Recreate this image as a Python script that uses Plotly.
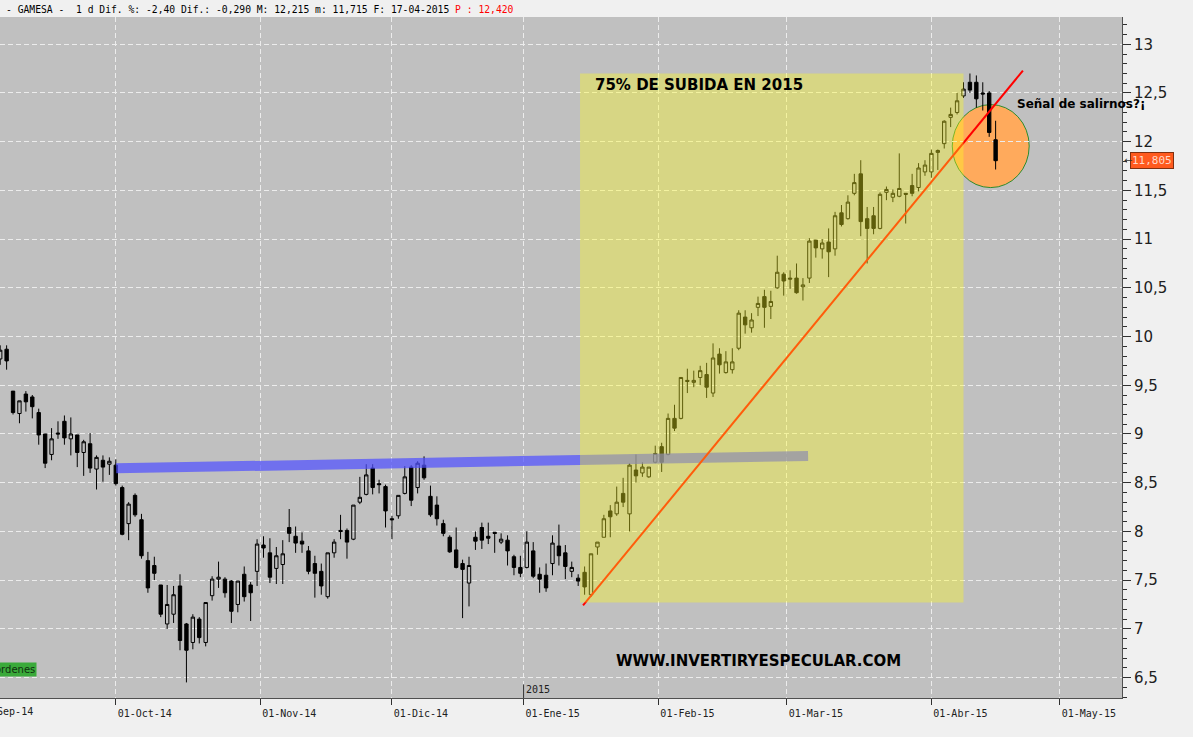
import pandas as pd
import plotly.graph_objects as go

# GAMESA, daily candles 05-Sep-2014 .. 17-Apr-2015
holidays = ["2014-12-25", "2014-12-26", "2015-01-01", "2015-04-03", "2015-04-06"]
cal = pd.bdate_range("2014-09-01", "2015-05-29")
cal = cal[~cal.isin(pd.to_datetime(holidays))]
first_day = pd.Timestamp("2014-09-05")

opens = [9.77, 9.87, 9.44, 9.21, 9.41, 9.38, 9.22, 9.00, 8.79, 9.01,
         9.13, 8.95, 8.99, 8.81, 8.90, 8.64, 8.73, 8.69, 8.68, 8.45,
         8.08, 8.37, 8.12, 7.70, 7.65, 7.45, 7.05, 7.15, 7.44, 7.05,
         6.86, 7.10, 6.86, 7.34, 7.51, 7.51, 7.49, 7.25, 7.56, 7.45,
         7.59, 7.86, 7.78, 7.62, 7.66, 8.04, 7.95, 7.90, 7.80, 7.67,
         7.59, 7.33, 7.78, 8.01, 8.01, 7.92, 8.30, 8.38, 8.65, 8.49,
         8.46, 8.13, 8.16, 8.39, 8.66, 8.45, 8.68, 8.36, 8.27, 8.08,
         7.94, 7.81, 7.67, 7.47, 7.94, 8.04, 7.95, 7.99, 7.89, 7.91,
         7.74, 7.63, 7.63, 7.80, 7.56, 7.55, 7.67, 7.85, 7.78, 7.59,
         7.52, 7.58, 7.35, 7.84, 7.94, 8.21, 8.18, 8.39, 8.18, 8.63,
         8.60, 8.56, 8.71, 8.87, 8.79, 9.16, 9.16, 9.55, 9.53, 9.58,
         9.61, 9.42, 9.82, 9.63, 9.66, 9.88, 10.20, 10.09, 10.30, 10.41,
         10.31, 10.50, 10.64, 10.60, 10.60, 10.51, 10.60, 10.99, 10.90, 10.97,
         10.90, 11.27, 11.21, 11.47, 11.67, 11.21, 11.24, 11.11, 11.48, 11.43,
         11.44, 11.47, 11.55, 11.53, 11.69, 11.69, 11.89, 11.98, 12.25, 12.30,
         12.47, 12.61, 12.61, 12.50, 12.50, 12.02]
highs = [9.91, 9.91, 9.44, 9.34, 9.44, 9.40, 9.26, 9.00, 9.06, 9.13,
         9.19, 9.17, 8.99, 8.94, 9.01, 8.78, 8.78, 8.76, 8.74, 8.47,
         8.30, 8.39, 8.18, 7.79, 7.74, 7.45, 7.45, 7.44, 7.56, 7.06,
         7.15, 7.12, 7.27, 7.54, 7.69, 7.53, 7.50, 7.49, 7.64, 7.48,
         7.92, 7.95, 7.93, 7.84, 7.91, 8.23, 8.05, 7.99, 7.85, 7.75,
         7.67, 7.78, 7.92, 8.17, 8.03, 8.27, 8.56, 8.69, 8.69, 8.53,
         8.48, 8.16, 8.37, 8.67, 8.68, 8.72, 8.77, 8.47, 8.36, 8.12,
         7.96, 8.04, 7.71, 7.74, 8.00, 8.09, 8.09, 7.99, 7.98, 7.96,
         7.76, 7.75, 8.00, 7.89, 7.63, 7.67, 7.96, 8.07, 7.86, 7.69,
         7.56, 7.64, 7.77, 7.89, 8.17, 8.27, 8.46, 8.55, 8.70, 8.79,
         8.71, 8.66, 8.88, 8.91, 9.21, 9.30, 9.58, 9.67, 9.65, 9.70,
         9.73, 9.93, 9.88, 9.85, 9.88, 10.27, 10.27, 10.24, 10.41, 10.48,
         10.47, 10.83, 10.66, 10.68, 10.75, 10.60, 11.01, 10.99, 11.00, 11.11,
         11.28, 11.35, 11.45, 11.67, 11.81, 11.33, 11.33, 11.48, 11.54, 11.51,
         11.88, 11.47, 11.67, 11.78, 11.81, 11.92, 11.92, 12.22, 12.35, 12.50,
         12.61, 12.70, 12.68, 12.61, 12.52, 12.215]
lows = [9.71, 9.66, 9.20, 9.11, 9.23, 9.16, 8.89, 8.65, 8.73, 8.95,
        8.89, 8.78, 8.66, 8.57, 8.60, 8.43, 8.51, 8.58, 8.47, 7.96,
        7.91, 8.15, 7.72, 7.37, 7.50, 7.12, 7.00, 7.06, 6.78, 6.45,
        6.79, 6.85, 6.82, 7.29, 7.42, 7.32, 7.06, 7.17, 7.28, 7.08,
        7.44, 7.73, 7.47, 7.46, 7.46, 7.89, 7.78, 7.78, 7.56, 7.32,
        7.35, 7.31, 7.73, 7.92, 7.72, 7.91, 8.28, 8.37, 8.38, 8.39,
        8.04, 7.92, 8.13, 8.38, 8.26, 8.39, 8.53, 8.15, 8.06, 7.95,
        7.78, 7.62, 7.11, 7.23, 7.81, 7.82, 7.87, 7.78, 7.87, 7.65,
        7.55, 7.53, 7.62, 7.52, 7.37, 7.38, 7.55, 7.65, 7.51, 7.53,
        7.44, 7.35, 7.33, 7.76, 7.94, 7.94, 8.16, 8.25, 8.00, 8.50,
        8.56, 8.55, 8.70, 8.61, 8.78, 9.03, 9.15, 9.42, 9.48, 9.50,
        9.37, 9.38, 9.62, 9.62, 9.62, 9.86, 10.03, 10.04, 10.21, 10.09,
        10.18, 10.49, 10.42, 10.49, 10.44, 10.37, 10.55, 10.81, 10.80, 10.61,
        10.83, 11.13, 11.20, 11.45, 11.03, 10.75, 11.05, 11.10, 11.40, 11.38,
        11.43, 11.16, 11.44, 11.49, 11.65, 11.63, 11.71, 11.93, 12.15, 12.28,
        12.45, 12.50, 12.35, 12.32, 12.05, 11.715]
closes = [9.86, 9.75, 9.22, 9.34, 9.33, 9.28, 8.99, 8.70, 8.95, 9.00,
          8.96, 9.00, 8.81, 8.92, 8.65, 8.76, 8.66, 8.72, 8.49, 7.97,
          8.28, 8.17, 7.75, 7.42, 7.57, 7.15, 7.25, 7.35, 6.88, 6.78,
          7.12, 6.91, 7.27, 7.51, 7.53, 7.37, 7.18, 7.49, 7.33, 7.37,
          7.87, 7.83, 7.53, 7.75, 7.77, 7.98, 7.88, 7.87, 7.59, 7.57,
          7.44, 7.78, 7.89, 8.00, 7.89, 8.27, 8.35, 8.58, 8.45, 8.48,
          8.21, 8.12, 8.37, 8.56, 8.32, 8.70, 8.55, 8.17, 8.13, 7.98,
          7.79, 7.63, 7.61, 7.65, 7.90, 7.91, 7.93, 7.98, 7.92, 7.80,
          7.63, 7.57, 7.89, 7.54, 7.51, 7.42, 7.88, 7.75, 7.64, 7.63,
          7.49, 7.43, 7.77, 7.89, 8.13, 8.15, 8.30, 8.30, 8.68, 8.57,
          8.66, 8.66, 8.80, 8.71, 9.16, 9.06, 9.58, 9.54, 9.55, 9.65,
          9.48, 9.78, 9.71, 9.74, 9.74, 10.24, 10.12, 10.17, 10.34, 10.30,
          10.36, 10.66, 10.57, 10.59, 10.45, 10.53, 10.98, 10.91, 10.96, 10.87,
          11.24, 11.15, 11.38, 11.58, 11.18, 11.11, 11.11, 11.46, 11.51, 11.47,
          11.52, 11.46, 11.47, 11.73, 11.76, 11.88, 11.91, 12.21, 12.28, 12.42,
          12.54, 12.53, 12.44, 12.49, 12.095, 11.805]

month_starts = ["2014-10-01", "2014-11-01", "2014-12-01", "2015-01-01",
                "2015-02-01", "2015-03-01", "2015-04-01", "2015-05-01"]
month_labels = ["01-Oct-14", "01-Nov-14", "01-Dic-14", "01-Ene-15",
                "01-Feb-15", "01-Mar-15", "01-Abr-15", "01-May-15"]
y_ticks = [6.5, 7, 7.5, 8, 8.5, 9, 9.5, 10, 10.5, 11, 11.5, 12, 12.5, 13]
y_labels = ["6,5", "7", "7,5", "8", "8,5", "9", "9,5", "10", "10,5", "11",
            "11,5", "12", "12,5", "13"]

# trading-day positions on the axis
start = list(cal).index(first_day)
xpos = list(range(start, start + len(opens)))


def month_pos(d):
    d = pd.Timestamp(d)
    i = next(j for j, t in enumerate(cal) if t >= d)
    return i if cal[i] == d else i - 0.5


tick_pos = [month_pos(d) for d in month_starts]

fig = go.Figure(go.Candlestick(
    x=xpos, open=opens, high=highs, low=lows, close=closes,
    increasing=dict(line=dict(color="black", width=1), fillcolor="rgba(0,0,0,0)"),
    decreasing=dict(line=dict(color="black", width=1), fillcolor="black"),
    whiskerwidth=0, showlegend=False, hoverinfo="skip",
))

grid = dict(showgrid=True, gridcolor="#ececec", griddash="5px,3px", gridwidth=1,
            zeroline=False, showline=True, linecolor="#505050", linewidth=1,
            ticks="outside", tickcolor="#303030")

fig.update_layout(
    width=1193, height=737,
    margin=dict(l=0, r=71, t=17, b=39, autoexpand=False),
    paper_bgcolor="#f0f0f0", plot_bgcolor="#c0c0c0",
    boxgap=0.25,
    xaxis=dict(range=[3.97, 178.68], rangeslider=dict(visible=False),
               tickvals=tick_pos, ticktext=month_labels, ticklen=6,
               ticklabelshift=29,
               tickfont=dict(family="DejaVu Sans Mono", size=10, color="#202020"),
               **grid),
    yaxis=dict(side="right", range=[6.29, 13.28], tickvals=y_ticks, ticktext=y_labels,
               ticklen=8,
               minor=dict(tick0=6.5, dtick=0.1, ticks="outside", ticklen=4,
                          tickcolor="#303030", showgrid=False),
               tickfont=dict(family="DejaVu Sans", size=15, color="#202020"),
               **grid),
)

# drawings: trend lines, highlighted box, circle
fig.add_shape(type="circle", xref="x", yref="y", x0=152.25, x1=164.23, y0=11.529, y1=12.381,
              fillcolor="#ffaa5c", line=dict(color="#2e8b2e", width=1), layer="below")
fig.add_shape(type="line", x0=22.06, y0=8.647, x1=129.8, y1=8.775,
              line=dict(color="rgba(80,80,255,0.72)", width=10), layer="above")
fig.add_shape(type="line", x0=94.76, y0=7.24, x1=163.25, y1=12.73,
              line=dict(color="#ff0000", width=2), layer="above")
fig.add_shape(type="rect", x0=94.29, x1=154.0, y0=7.27, y1=12.70,
              fillcolor="rgba(255,252,30,0.37)", line=dict(width=0), layer="above")
# year marker at Jan tick
fig.add_shape(type="line", xref="x", yref="paper", x0=tick_pos[3], x1=tick_pos[3], y0=0, y1=0.02,
              line=dict(color="#303030", width=1))

header = ("- GAMESA -&nbsp; 1 d Dif. %: -2,40 Dif.: -0,290 M: 12,215 m: 11,715 "
          "F: 17-04-2015 <span style='color:#ff0000'>P : 12,420</span>")
bold = dict(family="DejaVu Sans", color="#000000")
fig.add_annotation(xref="paper", yref="paper", x=0, y=1, xanchor="left", yanchor="bottom",
                   xshift=4, yshift=0, text=header, showarrow=False,
                   font=dict(family="DejaVu Sans Mono", size=9.7, color="#000000"))
fig.add_annotation(xref="paper", yref="y", x=593 / 1122, y=12.58, xanchor="left",
                   text="<b>75% DE SUBIDA EN 2015</b>", showarrow=False, font=dict(size=15, **bold))
fig.add_annotation(xref="paper", yref="y", x=1015 / 1122, y=12.384, xanchor="left",
                   text="<b>Señal de salirnos?¡</b>", showarrow=False, font=dict(size=12, **bold))
fig.add_annotation(xref="paper", yref="y", x=614 / 1122, y=6.665, xanchor="left",
                   text="<b>WWW.INVERTIRYESPECULAR.COM</b>", showarrow=False, font=dict(size=15, **bold))
fig.add_annotation(xref="paper", yref="paper", x=0, y=0, xanchor="left", yanchor="top",
                   xshift=-23, yshift=-6, text="01-Sep-14", showarrow=False,
                   font=dict(family="DejaVu Sans Mono", size=10, color="#202020"))
fig.add_annotation(xref="x", yref="paper", x=tick_pos[3], y=0, xanchor="left", yanchor="bottom",
                   xshift=0, yshift=1, text="2015", showarrow=False,
                   font=dict(family="DejaVu Sans Mono", size=10, color="#202020"))
fig.add_annotation(xref="paper", yref="y", x=1, y=closes[-1], xanchor="left", xshift=8,
                   text="11,805", showarrow=False, bgcolor="#ff5a1e", bordercolor="#803010",
                   borderwidth=1, borderpad=1,
                   font=dict(family="DejaVu Sans Mono", size=11, color="#ffd8c8"))
fig.add_annotation(xref="paper", yref="y", x=1, y=closes[-1], xanchor="left", xshift=0,
                   text="←", showarrow=False, font=dict(family="DejaVu Sans", size=10, color="#303030"))
fig.add_annotation(xref="paper", yref="y", x=0, y=6.583, xanchor="left", xshift=-7,
                   text="órdenes", showarrow=False, bgcolor="#3aaa3a", borderpad=1,
                   font=dict(family="DejaVu Sans", size=10, color="#103010"))

# page body has a default 8px margin; drop it so the figure sits at the window corner
fig.write_html("out.html", config={"displayModeBar": False},
               post_script="document.body.style.margin='0';")
